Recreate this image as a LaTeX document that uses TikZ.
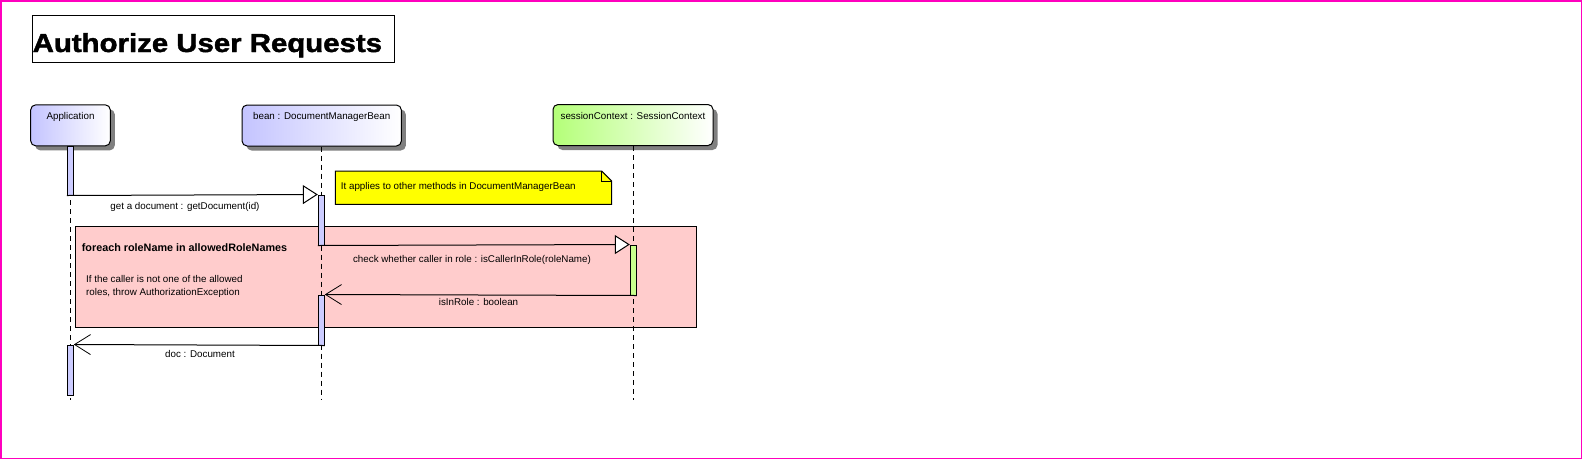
\documentclass[tikz,border=0pt]{standalone}
\usepackage{fontspec}
\setmainfont{Liberation Sans}
\usetikzlibrary{arrows.meta,shadows}
\definecolor{pinkborder}{RGB}{255,0,190}
\definecolor{barblue}{RGB}{204,204,255}
\definecolor{hdrblue}{RGB}{196,196,255}
\definecolor{hdrgreen}{RGB}{180,255,120}
\definecolor{bargreen}{RGB}{200,255,140}
\definecolor{fragpink}{RGB}{255,204,204}
\definecolor{noteyellow}{RGB}{255,255,0}
\definecolor{shadowgray}{RGB}{128,128,128}
\begin{document}
\begin{tikzpicture}[x=1pt,y=-1pt,
  every node/.style={font=\fontsize{9.8}{12}\selectfont},
  hdr/.style={draw=black, line width=1pt, rounded corners=5pt, minimum height=41pt, inner sep=0pt,
    drop shadow={shadow xshift=4.5pt, shadow yshift=-4.5pt, fill=shadowgray, opacity=1}},
  hdrb/.style={hdr, left color=hdrblue, right color=white},
  hdrg/.style={hdr, left color=hdrgreen, right color=white},
  lbl/.style={inner sep=0pt},
  bar/.style={draw=black, line width=1pt, fill=barblue, minimum width=6pt, inner sep=0pt},
  gbar/.style={bar, fill=bargreen},
  life/.style={line width=1pt, dash pattern=on 5pt off 4pt},
  call/.style={line width=1pt, -{Triangle[length=15pt,width=19pt,fill=white]}},
  ret/.style={line width=1pt, -{Straight Barb[length=16pt,width=20pt,line width=0.8pt]}},
  frame/.style={draw=black, line width=1pt, fill=fragpink, inner sep=0pt},
]
\useasboundingbox (0,0) rectangle (1582,459);
\draw[pinkborder, line width=1.5pt] (0.75,0.75) rectangle (1581.25,458.25);

% title
\node[draw=black, line width=1pt, fill=white, minimum width=362.4pt, minimum height=47.3pt, inner sep=0pt] (titlebox) at (213.5,38.65) {};
\node[lbl, anchor=base west] (title) at (32.5,52) {\scalebox{1.13}[1]{\fontsize{26}{30}\selectfont\bfseries\addfontfeatures{FakeBold=1.5}Authorize User Requests}};

% combined fragment
\node[frame, minimum width=620.6pt, minimum height=101.3pt] (frag) at (386,276.65) {};
\node[lbl, anchor=base west] (fragtitle) at (81.7,251.5) {\fontsize{10.8}{12}\selectfont\bfseries foreach roleName in allowedRoleNames};
\node[lbl, anchor=base west] (cond1) at (86,282.5) {If the caller is not one of the allowed};
\node[lbl, anchor=base west] (cond2) at (86,295.5) {roles, throw AuthorizationException};

% headers
\node[hdrb, minimum width=79.6pt] (app) at (70.5,125.35) {};
\node[hdrb, minimum width=159.3pt] (bean) at (321.7,125.5) {};
\node[hdrg, minimum width=160pt] (sess) at (633,125) {};
\node[lbl, anchor=base] (appt) at (70.5,119.5) {Application};
\node[lbl, anchor=base] (beant) at (321.7,119.5) {bean : DocumentManagerBean};
\node[lbl, anchor=base] (sesst) at (633,119.5) {sessionContext : SessionContext};

% lifeline ends
\coordinate (append) at (70.3,400);
\coordinate (beanend) at (321.3,400);
\coordinate (sessend) at (633.3,400);
\draw[life] (app.south -| append) -- (append);
\draw[life] (bean.south -| beanend) -- (beanend);
\draw[life] (sess.south -| sessend) -- (sessend);

% note
\draw[black, line width=1pt, fill=noteyellow] (335.3,171) -- (601.7,171) -- (611.7,181) -- (611.7,204.3) -- (335.3,204.3) -- cycle;
\draw[black, line width=0.8pt] (601.7,171) -- (601.7,181) -- (611.7,181);
\node[lbl, anchor=base west] (note) at (340.7,189.5) {It applies to other methods in DocumentManagerBean};

% activation bars
\node[bar, minimum height=49pt] (appbar1) at (70.3,170.5) {};
\node[bar, minimum height=50pt] (beanbar1) at (321.3,220) {};
\node[gbar, minimum height=50pt] (sessbar) at (633.3,270) {};
\node[bar, minimum height=50pt] (beanbar2) at (321.3,320) {};
\node[bar, minimum height=50pt] (appbar2) at (70.3,370) {};

% messages
\draw[call] (appbar1.south west) -- (beanbar1.north west);
\draw[call] (beanbar1.south west) -- (sessbar.north west);
\draw[ret] (sessbar.south east) -- (beanbar2.north east);
\draw[ret] (beanbar2.south east) -- (appbar2.north east);
\node[lbl, anchor=base] (m1) at (185,209.2) {get a document : getDocument(id)};
\node[lbl, anchor=base] (m2) at (472,262.8) {check whether caller in role : isCallerInRole(roleName)};
\node[lbl, anchor=base] (m3) at (478.5,305.2) {isInRole : boolean};
\node[lbl, anchor=base] (m4) at (200,357.8) {doc : Document};
\end{tikzpicture}
\end{document}
